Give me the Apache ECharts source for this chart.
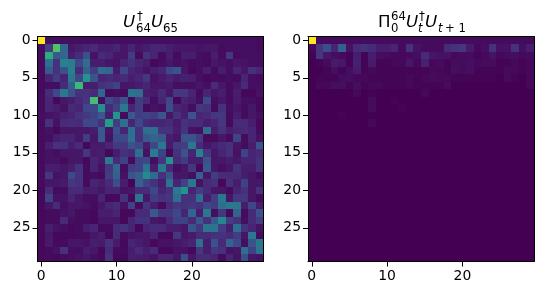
<!DOCTYPE html>
<html><head><meta charset="utf-8">
<style>html,body{margin:0;padding:0;background:#fff}#c{width:543px;height:295px}</style>
<script src="https://cdn.jsdelivr.net/npm/echarts@6/dist/echarts.min.js"></script>
</head><body><div id="c"></div>
<script>
const cats = Array.from({length:30},(_,i)=>String(i));
const xTicks = ['0','10','20'];
const yTicks = ['0','5','10','15','20','25'];
const viridis = ['#440154','#482878','#3e4989','#31688e','#26828e','#1f9e89','#35b779','#6ece58','#b5de2b','#fde725'];
const leftValues = [
[100,4,4,4,4,4,4,4,4,4,4,4,4,4,4,4,4,4,4,4,4,4,4,4,4,4,4,4,4,3],
[3,18,72,33,6,8,10,12,8,8,10,6,10,6,8,10,10,8,6,6,6,5,6,6,3,4,4,4,4,3],
[3,62,28,33,8,12,25,5,12,10,6,6,18,3,14,10,3,8,3,8,8,4,3,8,3,16,3,4,4,4],
[3,36,14,45,42,22,35,8,8,6,5,10,14,10,8,2,4,6,4,5,3,4,3,6,5,4,6,5,4,4],
[3,28,14,25,44,12,30,18,35,33,7,22,10,8,5,8,10,22,26,6,2,4,8,3,8,4,10,6,14,10],
[3,10,18,10,40,22,52,26,10,12,10,12,8,10,16,5,7,10,7,9,8,4,2,3,3,4,3,10,4,3],
[3,4,4,12,30,68,8,8,14,16,20,6,6,8,10,6,6,7,4,4,4,6,4,12,6,3,6,12,4,4],
[3,12,22,40,25,14,14,12,33,3,4,3,38,35,8,7,12,6,16,16,10,3,10,6,8,3,8,2,2,5],
[3,10,2,6,8,12,16,70,4,22,15,25,2,18,12,4,10,22,2,10,8,4,22,4,6,3,7,4,4,2],
[3,10,8,5,12,10,22,22,50,12,20,40,10,18,3,5,4,24,10,8,4,16,14,3,14,4,6,3,6,2],
[4,5,6,9,10,14,17,20,28,8,52,3,28,18,20,18,27,6,14,8,26,10,12,16,16,3,8,3,6,4],
[3,14,5,12,13,12,22,22,14,56,18,36,10,22,12,10,10,12,7,14,12,12,8,10,16,3,12,12,8,2],
[3,5,2,6,6,6,6,8,28,6,25,10,36,14,36,36,14,14,8,15,5,4,35,8,14,8,10,12,10,3],
[3,4,8,10,10,6,18,6,28,5,22,22,36,14,28,32,28,8,6,26,26,18,3,3,6,3,20,3,10,5],
[3,8,14,14,8,12,2,7,7,10,17,16,26,22,8,22,40,7,18,18,40,12,6,9,11,14,6,3,8,26],
[3,5,4,6,6,6,16,7,8,2,8,14,12,36,5,42,20,2,14,26,10,44,16,6,10,14,5,20,10,12],
[3,5,5,3,6,6,2,10,7,42,12,20,3,20,22,4,16,52,12,18,8,8,26,6,6,8,6,10,10,14],
[3,8,8,6,8,14,3,10,5,16,33,4,18,20,38,8,40,12,4,6,16,2,28,6,4,6,14,8,8,14],
[3,16,5,6,22,14,3,4,3,18,30,5,26,30,48,34,14,26,6,6,4,30,6,18,12,12,12,8,6,3],
[3,6,6,7,16,14,3,10,8,12,24,8,1,30,20,14,8,38,10,20,40,5,12,14,2,14,8,20,6,6],
[2,12,3,3,12,12,8,8,6,10,10,5,6,12,12,22,10,14,40,52,10,18,12,6,6,3,10,14,6,14],
[2,20,5,5,10,6,4,4,10,2,3,14,2,38,6,18,14,16,36,14,14,36,8,18,40,6,16,16,6,3],
[2,6,12,4,6,6,5,3,6,10,12,5,20,3,15,8,3,12,16,14,16,14,22,18,36,40,40,8,22,8],
[2,3,3,5,6,3,3,2,8,8,10,2,2,12,12,28,16,16,22,10,32,8,40,4,16,2,32,3,12,26],
[2,3,3,12,4,3,3,2,6,6,6,2,10,14,14,6,5,12,20,20,12,28,14,28,46,18,14,4,12,18],
[2,8,5,4,2,3,8,10,3,3,12,14,10,2,10,12,12,8,8,6,26,16,38,38,18,8,36,14,10,5],
[2,6,2,2,2,3,3,6,8,2,12,3,5,6,6,10,2,2,16,6,7,12,12,14,14,12,18,6,40,3],
[2,7,3,3,6,6,5,8,7,14,7,2,10,8,6,2,5,5,6,8,10,36,8,26,12,32,22,4,26,40],
[2,3,5,14,4,4,8,6,2,12,3,3,8,12,8,12,2,2,5,5,2,16,8,16,14,5,6,36,20,38],
[2,3,2,3,4,5,6,4,2,14,2,2,8,8,7,5,10,10,6,24,6,12,12,10,3,10,5,24,6,5]
];
const rightValues = [
[100,3,3,3,3,3,3,3,3,3,3,3,3,3,3,3,3,3,3,3,3,3,3,3,3,3,3,3,3,3],
[2,15,24,10,30,5,12,14,12,8,8,10,3,14,5,3,3,3,12,14,16,7,2,4,14,5,5,14,4,8],
[1,16,6,4,3,1,8,1,8,4,3,2,2,3,4,12,6,5,5,2,3,3,1,2,5,2,3,4,2,3],
[0,1,3,7,6,1,9,1,7,1,1,2,2,6,2,9,2,3,1,3,3,4,2,3,3,1,1,2,1,2],
[0,0,1,4,1,4,7,1,2,1,1,1,1,1,1,1,2,2,1,4,3,4,1,1,1,1,3,2,1,2],
[0,1,1,1,3,4,2,2,1,1,1,1,1,2,1,2,3,2,2,1,1,1,1,1,1,0,3,1,0,2],
[0,2,2,4,4,1,4,1,2,2,1,1,1,2,1,1,1,1,3,0,0,0,0,0,0,0,0,0,0,2],
[0,0,0,0,0,0,2,0,1,0,0,0,0,0,0,2,0,0,0,0,0,0,0,0,0,0,0,0,0,0],
[0,0,0,0,0,0,0,0,3,0,0,1,0,0,0,0,0,0,0,0,0,0,0,0,0,0,0,0,0,0],
[0,0,0,0,0,0,0,0,3,0,0,0,1,0,0,0,0,0,0,0,0,0,0,0,0,0,0,0,0,0],
[0,0,0,0,1,0,0,0,0,0,0,0,0,0,0,0,0,0,0,0,0,0,0,0,0,0,0,0,0,0],
[0,0,0,0,0,0,0,0,2,0,0,0,0,0,0,0,0,0,0,0,0,0,0,0,0,0,0,0,0,0],
...Array.from({length:18},()=>new Array(30).fill(0))
];
const toCells = m => m.flatMap((row,y)=>row.map((v,x)=>[x,y,v]));
const tickFn = list => (i,name) => list.includes(name);
const font = {fontFamily:'DejaVu Sans',fontSize:13.9,color:'#000'};
const grids = [{left:37.5,top:36.5,width:226,height:225},{left:308,top:36.5,width:226,height:225}];
const line = {show:true,onZero:false,lineStyle:{color:'#000',width:1}};
const tick = list => ({show:true,alignWithLabel:true,length:5,interval:tickFn(list),lineStyle:{color:'#000',width:1}});
const renderCell = (params,api) => {
  const c = api.coord([api.value(0),api.value(1)]);
  const sz = api.size([1,1]);
  const x0 = Math.round(c[0]-sz[0]/2), x1 = Math.round(c[0]+sz[0]/2);
  const y0 = Math.round(c[1]-sz[1]/2), y1 = Math.round(c[1]+sz[1]/2);
  return {type:'rect',shape:{x:x0,y:y0,width:x1-x0,height:y1-y0},style:{fill:api.visual('color')},silent:true};
};
const xAxes=[],yAxes=[],series=[];
grids.forEach((g,i)=>{
  xAxes.push({type:'category',gridIndex:i,data:cats,position:'bottom',z:10,axisLine:line,axisTick:tick(xTicks),
    axisLabel:{show:true,interval:tickFn(xTicks),margin:8,...font},splitLine:{show:false},splitArea:{show:false}});
  xAxes.push({type:'category',gridIndex:i,data:cats,position:'top',z:10,axisLine:line,axisTick:{show:false},axisLabel:{show:false},splitLine:{show:false}});
  yAxes.push({type:'category',gridIndex:i,data:cats,inverse:true,position:'left',z:10,axisLine:line,axisTick:tick(yTicks),
    axisLabel:{show:true,interval:tickFn(yTicks),margin:7,padding:[2,0,0,0],...font},splitLine:{show:false},splitArea:{show:false}});
  yAxes.push({type:'category',gridIndex:i,data:cats,inverse:true,position:'right',z:10,axisLine:line,axisTick:{show:false},axisLabel:{show:false},splitLine:{show:false}});
  series.push({type:'custom',xAxisIndex:i*2,yAxisIndex:i*2,coordinateSystem:'cartesian2d',data:toCells(i===0?leftValues:rightValues),
    encode:{x:0,y:1},renderItem:renderCell,animation:false,silent:true,progressive:0,clip:true});
});
const tx=(x,base,text,size,style)=>({type:'text',x,y:base-0.346*size,silent:true,style:{text,fill:'#000',font:(style||'normal')+' '+size+'px "DejaVu Sans"',verticalAlign:'middle',align:'left'}});
const S=16.67,s=11.67;
const titleParts=[
 tx(123,28,'U',S,'italic'),tx(137,21,'†',s),tx(136,33,'64',s),tx(151,28,'U',S,'italic'),tx(163,33,'65',s),
 tx(378,28,'Π',S),tx(391,21,'64',s),tx(391,33,'0',s),tx(406,28,'U',S,'italic'),tx(419,21,'†',s),tx(418,33,'t',s,'italic'),
 tx(425,28,'U',S,'italic'),tx(438,33,'t',s,'italic'),tx(445,33,'+ 1',s)
];
const chart=echarts.init(document.getElementById('c'),null,{renderer:'canvas'});
chart.setOption({animation:false,backgroundColor:'#fff',grid:grids,xAxis:xAxes,yAxis:yAxes,
  visualMap:{show:false,type:'continuous',min:0,max:100,dimension:2,seriesIndex:[0,1],inRange:{color:viridis}},
  series,graphic:titleParts});
</script></body></html>
